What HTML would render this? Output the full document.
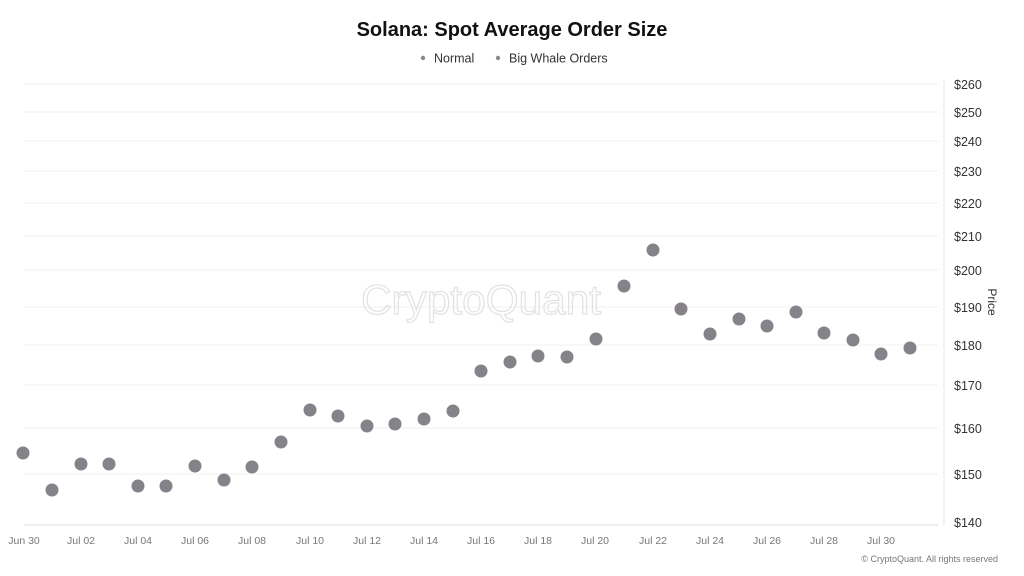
<!DOCTYPE html>
<html><head><meta charset="utf-8"><style>
body{margin:0;background:#fff;}
svg{display:block;font-family:"Liberation Sans",sans-serif;}
</style></head><body>
<svg width="1024" height="576" viewBox="0 0 1024 576">
<rect width="1024" height="576" fill="#fff"/>
<text x="512" y="36" text-anchor="middle" font-size="20" font-weight="bold" fill="#111">Solana: Spot Average Order Size</text>
<circle cx="423" cy="58" r="2.2" fill="#888"/>
<text x="434" y="62.5" font-size="12.5" fill="#333">Normal</text>
<circle cx="498" cy="58" r="2.2" fill="#888"/>
<text x="509" y="62.5" font-size="12.5" fill="#333">Big Whale Orders</text>
<g stroke="#f0f0f0" stroke-width="1">
<line x1="24" x2="938" y1="84" y2="84"/><line x1="24" x2="938" y1="112" y2="112"/>
<line x1="24" x2="938" y1="141" y2="141"/><line x1="24" x2="938" y1="171" y2="171"/>
<line x1="24" x2="938" y1="203" y2="203"/><line x1="24" x2="938" y1="236" y2="236"/>
<line x1="24" x2="938" y1="270" y2="270"/><line x1="24" x2="938" y1="307" y2="307"/>
<line x1="24" x2="938" y1="345" y2="345"/><line x1="24" x2="938" y1="385" y2="385"/>
<line x1="24" x2="938" y1="428" y2="428"/><line x1="24" x2="938" y1="474" y2="474"/>
</g>
<line x1="24" x2="938" y1="525" y2="525" stroke="#ddd"/>
<line x1="944" x2="944" y1="80" y2="525" stroke="#ccc" stroke-dasharray="1,1"/>
<text x="481" y="314" text-anchor="middle" font-size="42" fill="none" stroke="#e2e2e2" stroke-width="1.2" textLength="240" lengthAdjust="spacingAndGlyphs">CryptoQuant</text>
<g font-size="12.5" fill="#333">
<text x="954" y="89">$260</text><text x="954" y="117">$250</text><text x="954" y="146">$240</text>
<text x="954" y="176">$230</text><text x="954" y="208">$220</text><text x="954" y="241">$210</text>
<text x="954" y="275">$200</text><text x="954" y="312">$190</text><text x="954" y="350">$180</text>
<text x="954" y="390">$170</text><text x="954" y="433">$160</text><text x="954" y="479">$150</text>
<text x="954" y="527">$140</text>
</g>
<text x="0" y="0" font-size="12" fill="#333" transform="translate(988,302) rotate(90)" text-anchor="middle">Price</text>
<g font-size="10.5" fill="#777" text-anchor="middle">
<text x="24" y="544">Jun 30</text><text x="81" y="544">Jul 02</text><text x="138" y="544">Jul 04</text>
<text x="195" y="544">Jul 06</text><text x="252" y="544">Jul 08</text><text x="310" y="544">Jul 10</text>
<text x="367" y="544">Jul 12</text><text x="424" y="544">Jul 14</text><text x="481" y="544">Jul 16</text>
<text x="538" y="544">Jul 18</text><text x="595" y="544">Jul 20</text><text x="653" y="544">Jul 22</text>
<text x="710" y="544">Jul 24</text><text x="767" y="544">Jul 26</text><text x="824" y="544">Jul 28</text>
<text x="881" y="544">Jul 30</text>
</g>
<text x="998" y="562" text-anchor="end" font-size="9" fill="#777">© CryptoQuant. All rights reserved</text>
<g fill="#858289">
<circle cx="23" cy="453" r="6.5"/><circle cx="52" cy="490" r="6.5"/><circle cx="81" cy="464" r="6.5"/>
<circle cx="109" cy="464" r="6.5"/><circle cx="138" cy="486" r="6.5"/><circle cx="166" cy="486" r="6.5"/>
<circle cx="195" cy="466" r="6.5"/><circle cx="224" cy="480" r="6.5"/><circle cx="252" cy="467" r="6.5"/>
<circle cx="281" cy="442" r="6.5"/><circle cx="310" cy="410" r="6.5"/><circle cx="338" cy="416" r="6.5"/>
<circle cx="367" cy="426" r="6.5"/><circle cx="395" cy="424" r="6.5"/><circle cx="424" cy="419" r="6.5"/>
<circle cx="453" cy="411" r="6.5"/><circle cx="481" cy="371" r="6.5"/><circle cx="510" cy="362" r="6.5"/>
<circle cx="538" cy="356" r="6.5"/><circle cx="567" cy="357" r="6.5"/><circle cx="596" cy="339" r="6.5"/>
<circle cx="624" cy="286" r="6.5"/><circle cx="653" cy="250" r="6.5"/><circle cx="681" cy="309" r="6.5"/>
<circle cx="710" cy="334" r="6.5"/><circle cx="739" cy="319" r="6.5"/><circle cx="767" cy="326" r="6.5"/>
<circle cx="796" cy="312" r="6.5"/><circle cx="824" cy="333" r="6.5"/><circle cx="853" cy="340" r="6.5"/>
<circle cx="881" cy="354" r="6.5"/><circle cx="910" cy="348" r="6.5"/>
</g>
</svg>
</body></html>
